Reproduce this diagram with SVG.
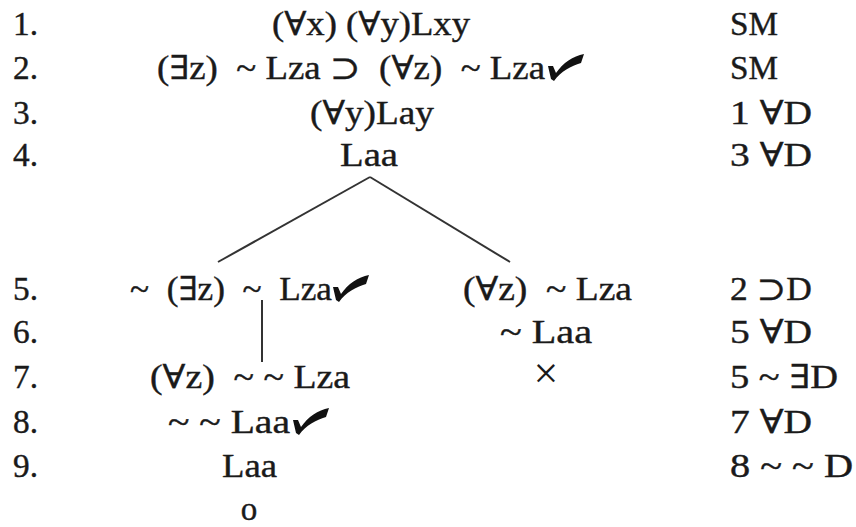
<svg xmlns="http://www.w3.org/2000/svg" width="856" height="527" viewBox="0 0 856 527" xml:space="preserve">
<style>
text{font-family:"Liberation Serif","DejaVu Serif",serif;font-size:33px;fill:#1a1a1a;stroke:#1a1a1a;stroke-width:0.4;white-space:pre;}
.ln{stroke:#333;stroke-width:2;fill:none;}
.ck{fill:#111;}
</style>
<defs>
<path id="check" d="M0,0 L-3,-13 L2,-13 L5,-6 C12,-16 22,-23 33,-25 L30,-16 C20,-13 10,-8 3,2 Z"/>
</defs>
<rect width="856" height="527" fill="#fff" stroke="none"/>
<g id="numbers">
<text x="13" y="35" textLength="25" lengthAdjust="spacingAndGlyphs">1.</text>
<text x="13" y="79" textLength="25" lengthAdjust="spacingAndGlyphs">2.</text>
<text x="13" y="124" textLength="25" lengthAdjust="spacingAndGlyphs">3.</text>
<text x="13" y="166" textLength="25" lengthAdjust="spacingAndGlyphs">4.</text>
<text x="13" y="300" textLength="25" lengthAdjust="spacingAndGlyphs">5.</text>
<text x="13" y="343" textLength="25" lengthAdjust="spacingAndGlyphs">6.</text>
<text x="13" y="388" textLength="25" lengthAdjust="spacingAndGlyphs">7.</text>
<text x="13" y="433" textLength="25" lengthAdjust="spacingAndGlyphs">8.</text>
<text x="13" y="477" textLength="25" lengthAdjust="spacingAndGlyphs">9.</text>
</g>
<g id="justifications">
<text x="730" y="35" textLength="48" lengthAdjust="spacingAndGlyphs">SM</text>
<text x="730" y="79" textLength="48" lengthAdjust="spacingAndGlyphs">SM</text>
<text x="730" y="124" textLength="82" lengthAdjust="spacingAndGlyphs">1 ∀D</text>
<text x="730" y="166" textLength="82" lengthAdjust="spacingAndGlyphs">3 ∀D</text>
<text x="730" y="300" textLength="82" lengthAdjust="spacingAndGlyphs">2 ⊃D</text>
<text x="730" y="343" textLength="82" lengthAdjust="spacingAndGlyphs">5 ∀D</text>
<text x="730" y="388" textLength="108" lengthAdjust="spacingAndGlyphs">5 ~ ∃D</text>
<text x="730" y="433" textLength="82" lengthAdjust="spacingAndGlyphs">7 ∀D</text>
<text x="730" y="477" textLength="123" lengthAdjust="spacingAndGlyphs">8 ~ ~ D</text>
</g>
<g id="n1"><text x="272" y="35" textLength="198" lengthAdjust="spacingAndGlyphs">(∀x) (∀y)Lxy</text></g>
<g id="n2"><text x="157" y="79" textLength="388" lengthAdjust="spacingAndGlyphs">(∃z)  ~ Lza ⊃  (∀z)  ~ Lza</text><use href="#check" x="551" y="79" class="ck"/></g>
<g id="n3"><text x="310" y="124" textLength="124" lengthAdjust="spacingAndGlyphs">(∀y)Lay</text></g>
<g id="n4"><text x="340" y="166" textLength="58" lengthAdjust="spacingAndGlyphs">Laa</text></g>
<g id="n5"><text x="130" y="300" textLength="202" lengthAdjust="spacingAndGlyphs">~  (∃z)  ~  Lza</text><use href="#check" x="336" y="300" class="ck"/></g>
<g id="n5b"><text x="463" y="300" textLength="169" lengthAdjust="spacingAndGlyphs">(∀z)  ~ Lza</text></g>
<g id="n6b"><text x="500" y="343" textLength="92" lengthAdjust="spacingAndGlyphs">~ Laa</text></g>
<g id="n7b"><text x="546" y="388" text-anchor="middle" style="font-size:44px;stroke-width:0">×</text></g>
<g id="n7"><text x="150" y="388" textLength="200" lengthAdjust="spacingAndGlyphs">(∀z)  ~ ~ Lza</text></g>
<g id="n8"><text x="168" y="433" textLength="122" lengthAdjust="spacingAndGlyphs">~ ~ Laa</text><use href="#check" x="296" y="433" class="ck"/></g>
<g id="n9"><text x="222" y="477" textLength="55" lengthAdjust="spacingAndGlyphs">Laa</text></g>
<g id="n10"><text x="249" y="520" text-anchor="middle">o</text></g>
<g id="connectors">
<line class="ln" x1="370" y1="177" x2="218" y2="262"/>
<line class="ln" x1="370" y1="177" x2="510" y2="262"/>
<line class="ln" x1="262" y1="300" x2="262" y2="362"/>
</g>
</svg>
